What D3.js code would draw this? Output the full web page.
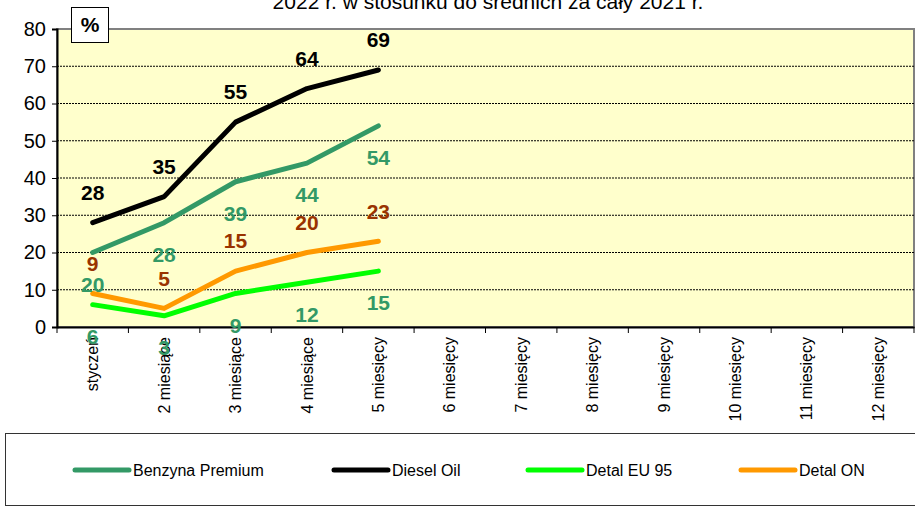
<!DOCTYPE html>
<html lang="pl">
<head>
<meta charset="UTF-8">
<title>Wykres</title>
<script src="https://d3js.org/d3.v7.min.js"></script>
<style>
  body { margin: 0; background: #fff; }
  svg { display: block; font-family: Arial, "Liberation Sans", sans-serif; }
</style>
</head>
<body>
<div id="chart"></div>
<script>
    // categories (x axis)
    const months = ["styczeń", "2 miesiące", "3 miesiące", "4 miesiące", "5 miesięcy", "6 miesięcy",
        "7 miesięcy", "8 miesięcy", "9 miesięcy", "10 miesięcy", "11 miesięcy", "12 miesięcy"];
    const yTicks = [0, 10, 20, 30, 40, 50, 60, 70, 80];

    // series values
    const benzynaPremium = [20, 28, 39, 44, 54];
    const dieselOil = [28, 35, 55, 64, 69];
    const detalEU95 = [6, 3, 9, 12, 15];
    const detalON = [9, 5, 15, 20, 23];

    const seriesNames = ["Benzyna Premium", "Diesel Oil", "Detal EU 95", "Detal ON"];

    const series = [
        { name: seriesNames[0], values: benzynaPremium, color: "#339966", labelColor: "#339966", dy: 32 },
        { name: seriesNames[1], values: dieselOil, color: "#000000", labelColor: "#000000", dy: -30 },
        { name: seriesNames[2], values: detalEU95, color: "#00ff00", labelColor: "#339966", dy: 32 },
        { name: seriesNames[3], values: detalON, color: "#ff9900", labelColor: "#993300", dy: -30 }
    ];

    const width = 915, height = 507;
    const plot = { left: 57, right: 914, top: 29, bottom: 327 };

    const svg = d3.select("#chart").append("svg")
        .attr("width", width)
        .attr("height", height);

    // title (cut off at the top in the original)
    svg.append("text")
        .attr("x", 488)
        .attr("y", 9)
        .attr("text-anchor", "middle")
        .attr("font-size", 21)
        .text("2022 r. w stosunku do średnich za cały 2021 r.");

    const x = d3.scaleBand().domain(months).range([plot.left, plot.right]);
    const y = d3.scaleLinear().domain([0, 80]).range([plot.bottom, plot.top]);

    // plot background
    svg.append("rect")
        .attr("x", plot.left)
        .attr("y", plot.top)
        .attr("width", plot.right - plot.left)
        .attr("height", plot.bottom - plot.top)
        .attr("fill", "#ffffcc")
        .attr("stroke", "#808080")
        .attr("stroke-width", 2);

    // gridlines
    svg.append("g")
        .selectAll("line")
        .data(yTicks.filter(d => d > 0 && d < 80))
        .enter().append("line")
        .attr("x1", plot.left)
        .attr("x2", plot.right)
        .attr("y1", d => y(d))
        .attr("y2", d => y(d))
        .attr("stroke", "#000")
        .attr("stroke-width", 1)
        .attr("stroke-dasharray", "2,1");

    // y axis
    const yAxis = svg.append("g")
        .attr("transform", `translate(${plot.left},0)`)
        .call(d3.axisLeft(y).tickValues(yTicks).tickSize(5).tickPadding(6));
    yAxis.select(".domain").attr("stroke", "#000").attr("stroke-width", 2);
    yAxis.selectAll(".tick line").attr("stroke", "#000");
    yAxis.selectAll("text").attr("font-size", 20).attr("fill", "#000")
        .attr("font-family", "Arial, 'Liberation Sans', sans-serif");

    // x axis
    const xAxis = svg.append("g")
        .attr("transform", `translate(0,${plot.bottom})`)
        .call(d3.axisBottom(x).tickSize(0).tickPadding(0));
    xAxis.select(".domain").attr("stroke", "#000").attr("stroke-width", 2);
    xAxis.selectAll(".tick text")
        .attr("font-size", 16)
        .attr("fill", "#000")
        .attr("font-family", "Arial, 'Liberation Sans', sans-serif")
        .attr("text-anchor", "end")
        .attr("dy", "0.35em")
        .attr("transform", "translate(0,10) rotate(-90)")
        .attr("x", 0)
        .attr("y", 0);

    // tick marks between categories
    svg.append("g")
        .selectAll("line")
        .data(months.map(m => x(m)).concat([plot.right]))
        .enter().append("line")
        .attr("x1", d => d)
        .attr("x2", d => d)
        .attr("y1", plot.bottom)
        .attr("y2", plot.bottom + 6)
        .attr("stroke", "#000")
        .attr("stroke-width", 1);

    const cx = i => x(months[i]) + x.bandwidth() / 2;

    const line = d3.line()
        .x((d, i) => cx(i))
        .y(d => y(d));

    // lines
    svg.append("g")
        .selectAll("path")
        .data(series)
        .enter().append("path")
        .attr("d", d => line(d.values))
        .attr("fill", "none")
        .attr("stroke", d => d.color)
        .attr("stroke-width", 5)
        .attr("stroke-linecap", "round")
        .attr("stroke-linejoin", "round");

    // data labels
    series.forEach(s => {
        svg.append("g")
            .selectAll("text")
            .data(s.values)
            .enter().append("text")
            .attr("x", (d, i) => cx(i))
            .attr("y", d => y(d) + s.dy)
            .attr("dy", "0.35em")
            .attr("text-anchor", "middle")
            .attr("font-size", 21)
            .attr("font-weight", "bold")
            .attr("fill", s.labelColor)
            .text(d => d);
    });

    // "%" box
    svg.append("rect")
        .attr("x", 71.5)
        .attr("y", 7.5)
        .attr("width", 37)
        .attr("height", 35)
        .attr("fill", "#fff")
        .attr("stroke", "#000")
        .attr("stroke-width", 1);
    svg.append("text")
        .attr("x", 90)
        .attr("y", 25)
        .attr("dy", "0.35em")
        .attr("text-anchor", "middle")
        .attr("font-size", 21)
        .attr("font-weight", "bold")
        .text("%");

    // legend
    svg.append("rect")
        .attr("x", 5.5)
        .attr("y", 433.5)
        .attr("width", 915)
        .attr("height", 72)
        .attr("fill", "#fff")
        .attr("stroke", "#333")
        .attr("stroke-width", 1);

    const legendX = [75, 334, 528, 741];
    const legend = svg.append("g")
        .selectAll("g")
        .data(series)
        .enter().append("g")
        .attr("transform", (d, i) => `translate(${legendX[i]},470)`);
    legend.append("line")
        .attr("x1", 0)
        .attr("x2", 54)
        .attr("stroke", d => d.color)
        .attr("stroke-width", 5)
        .attr("stroke-linecap", "round");
    legend.append("text")
        .attr("x", 58)
        .attr("dy", "0.35em")
        .attr("font-size", 16)
        .text(d => d.name);
</script>
</body>
</html>
